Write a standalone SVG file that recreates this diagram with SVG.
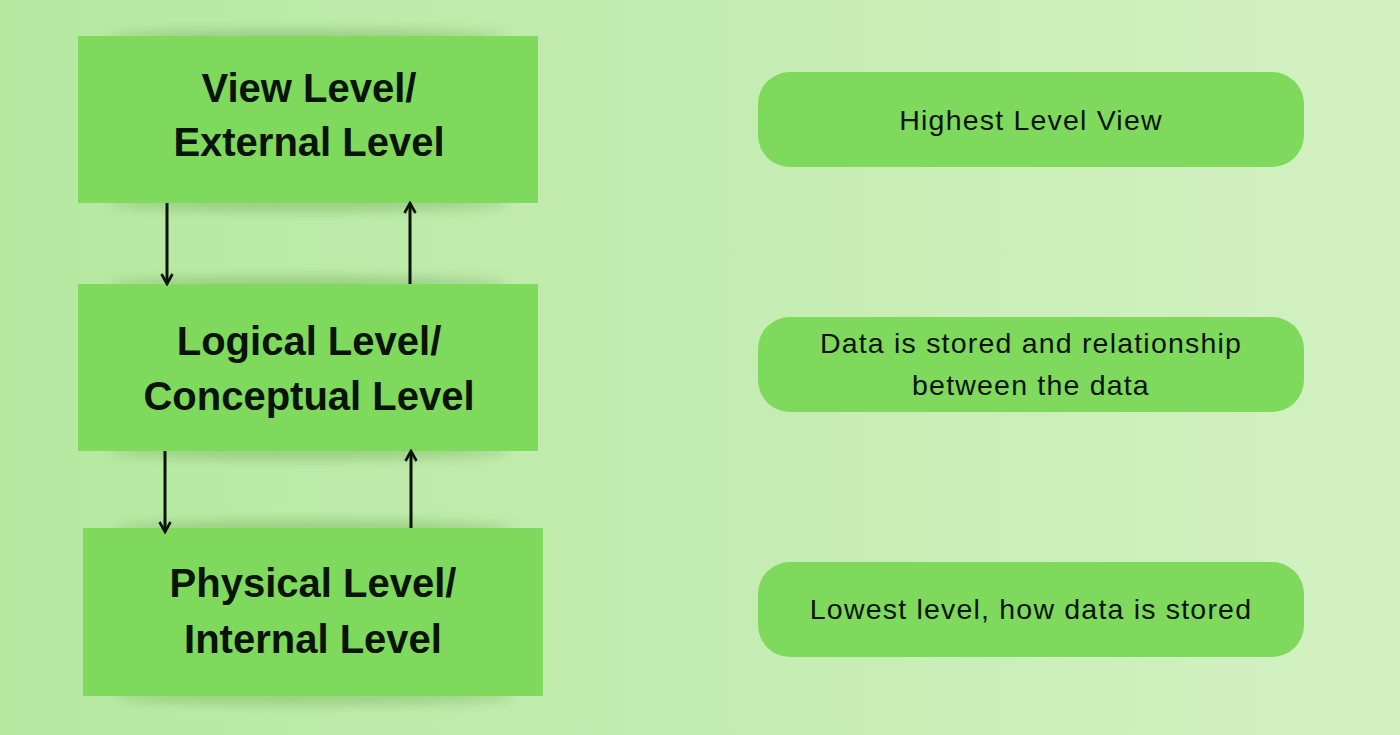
<svg xmlns="http://www.w3.org/2000/svg" width="1400" height="735" viewBox="0 0 1400 735">
<defs>
<linearGradient id="bg" x1="0" y1="0" x2="1" y2="0">
<stop offset="0" stop-color="#b6e8a0"/>
<stop offset="1" stop-color="#d2f1c2"/>
</linearGradient>
<filter id="blur" x="-20%" y="-50%" width="140%" height="200%">
<feGaussianBlur stdDeviation="6"/>
</filter>
<marker id="ah" viewBox="0 0 14 14" refX="12" refY="7" markerWidth="14" markerHeight="14" markerUnits="userSpaceOnUse" orient="auto">
<path d="M2,1.5 L12,7 L2,12.5" fill="none" stroke="#0a1405" stroke-width="2.6"/>
</marker>
<style>
.box{fill:#7fd95c}
.shadow{fill:#6aa84e;opacity:0.4;filter:url(#blur)}
.title{font-family:"Liberation Sans",Arial,sans-serif;font-weight:bold;font-size:40px;fill:#0a1405;text-anchor:middle}
.desc{font-family:"Liberation Sans",Arial,sans-serif;font-size:28.5px;fill:#0a1405;text-anchor:middle;letter-spacing:1.2px}
.conn{stroke:#0a1405;stroke-width:3;fill:none;marker-end:url(#ah)}
</style>
</defs>
<rect width="1400" height="735" fill="url(#bg)"/>

<g id="node-view">
<ellipse class="shadow" cx="308" cy="38" rx="200" ry="9"/>
<ellipse class="shadow" cx="308" cy="203" rx="200" ry="9"/>
<rect class="box" x="78" y="36" width="460" height="167"/>
<text class="title" x="309" y="102">View Level/</text>
<text class="title" x="309" y="156">External Level</text>
</g>

<g id="node-logical">
<ellipse class="shadow" cx="308" cy="285" rx="200" ry="9"/>
<ellipse class="shadow" cx="308" cy="451" rx="200" ry="9"/>
<rect class="box" x="78" y="284" width="460" height="167"/>
<text class="title" x="309" y="355">Logical Level/</text>
<text class="title" x="309" y="410">Conceptual Level</text>
</g>

<g id="node-physical">
<ellipse class="shadow" cx="313" cy="529" rx="200" ry="9"/>
<ellipse class="shadow" cx="313" cy="696" rx="200" ry="9"/>
<rect class="box" x="83" y="528" width="460" height="168"/>
<text class="title" x="313" y="597">Physical Level/</text>
<text class="title" x="313" y="653">Internal Level</text>
</g>

<g id="desc-view">
<rect class="box" x="758" y="72" width="546" height="95" rx="32"/>
<text class="desc" x="1031" y="130">Highest Level View</text>
</g>

<g id="desc-logical">
<rect class="box" x="758" y="317" width="546" height="95" rx="32"/>
<text class="desc" x="1031" y="353">Data is stored and relationship</text>
<text class="desc" x="1031" y="395">between the data</text>
</g>

<g id="desc-physical">
<rect class="box" x="758" y="562" width="546" height="95" rx="32"/>
<text class="desc" x="1031" y="619">Lowest level, how data is stored</text>
</g>

<g id="connectors">
<line class="conn" x1="167" y1="203" x2="167" y2="284"/>
<line class="conn" x1="410" y1="284" x2="410" y2="203"/>
<line class="conn" x1="165" y1="451" x2="165" y2="532"/>
<line class="conn" x1="411" y1="528" x2="411" y2="451"/>
</g>
</svg>
